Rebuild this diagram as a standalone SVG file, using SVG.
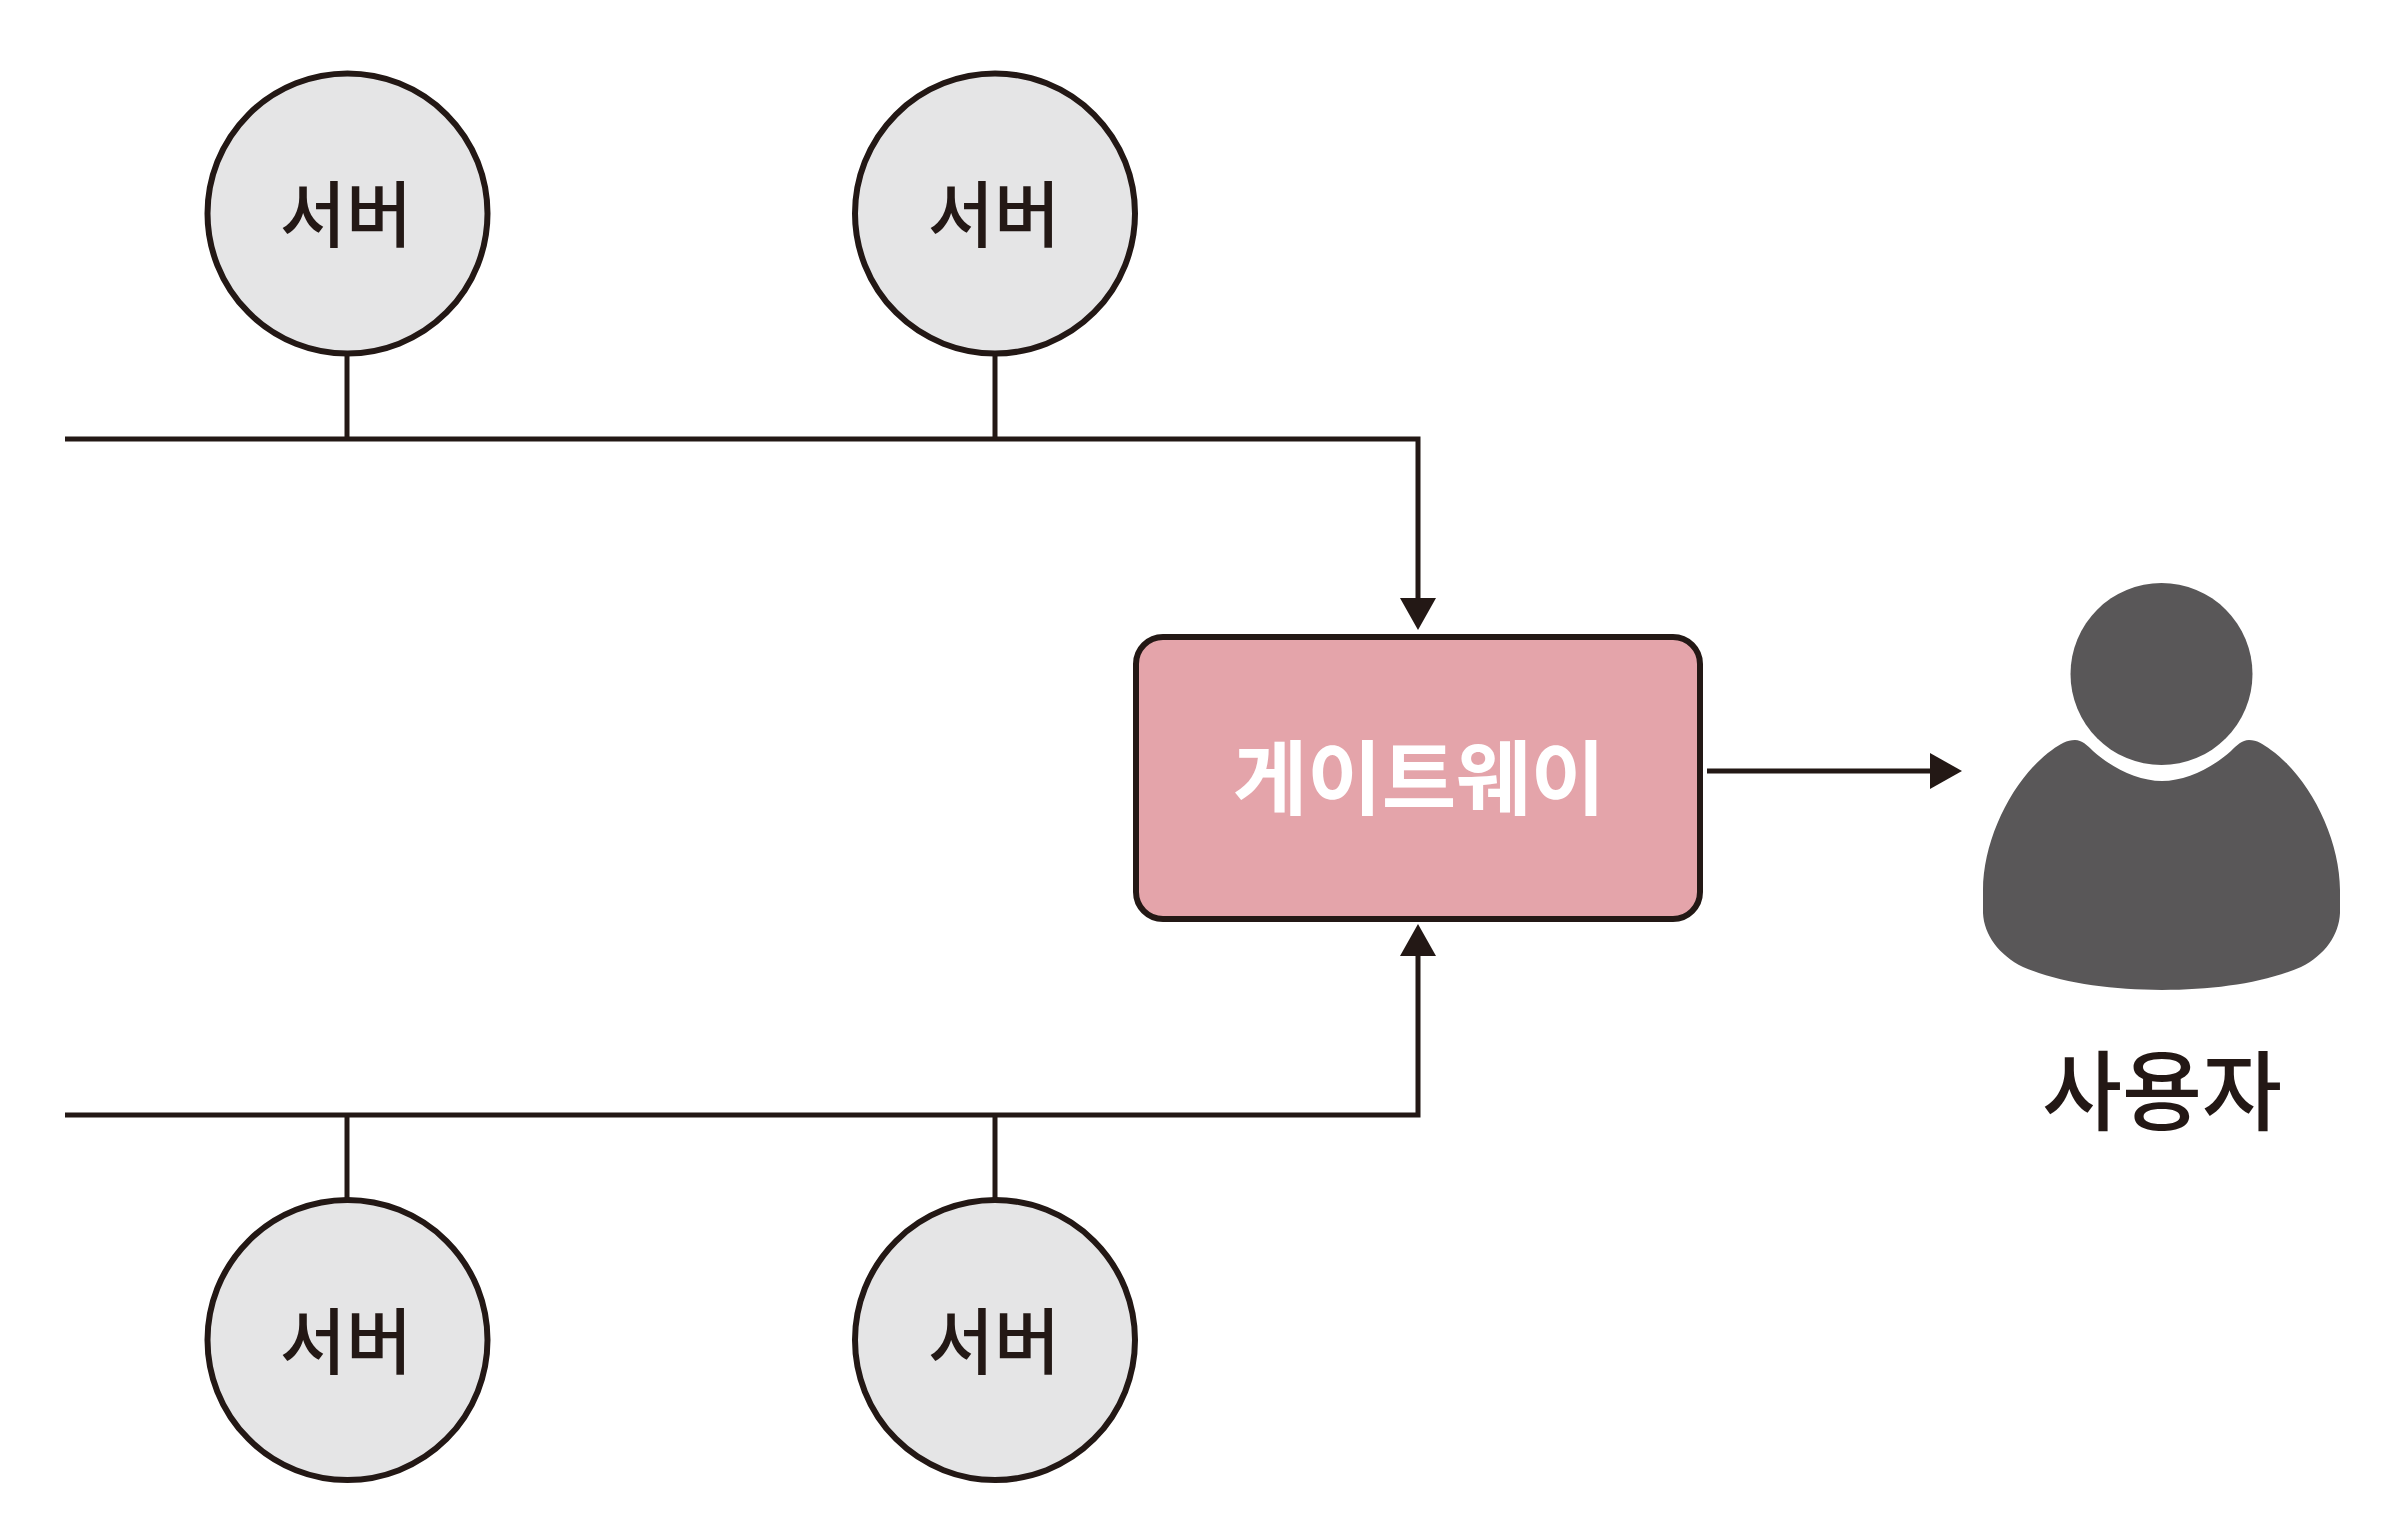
<svg xmlns="http://www.w3.org/2000/svg" width="2392" height="1528" viewBox="0 0 2392 1528">
  <style>
    .server circle { fill: #e5e5e6; stroke: #231815; stroke-width: 6; }
    .wire { fill: none; stroke: #231815; stroke-width: 5; stroke-linejoin: miter; }
    text { font-family: "Noto Sans CJK KR", "Noto Sans", sans-serif; text-anchor: middle; }
    .server text { font-size: 72px; fill: #231815; font-weight: 500; }
  </style>
  <defs>
    <marker id="arrow" markerUnits="userSpaceOnUse" markerWidth="32" markerHeight="36" refX="0" refY="18" orient="auto">
      <path d="M0 0 L32 18 L0 36 Z" fill="#231815"/>
    </marker>
  </defs>
  <rect width="2392" height="1528" fill="#ffffff"/>
  <g id="connectors">
    <path class="wire" d="M65 439 H1418 V598" marker-end="url(#arrow)"/>
    <path class="wire" d="M65 1115 H1418 V956" marker-end="url(#arrow)"/>
    <path class="wire" d="M347 353 V439"/>
    <path class="wire" d="M995 353 V439"/>
    <path class="wire" d="M347 1115 V1200"/>
    <path class="wire" d="M995 1115 V1200"/>
    <path class="wire" d="M1707 771 H1930" marker-end="url(#arrow)"/>
  </g>
  <g id="server-top-left" class="server">
    <circle cx="347.500" cy="213.500" r="140"/>
    <text x="346" y="241">서버</text>
  </g>
  <g id="server-top-right" class="server">
    <circle cx="995" cy="213.500" r="140"/>
    <text x="994" y="241">서버</text>
  </g>
  <g id="server-bottom-left" class="server">
    <circle cx="347.500" cy="1340" r="140"/>
    <text x="346" y="1368">서버</text>
  </g>
  <g id="server-bottom-right" class="server">
    <circle cx="995" cy="1340" r="140"/>
    <text x="994" y="1368">서버</text>
  </g>
  <g id="gateway">
    <rect x="1136" y="637" width="564" height="282" rx="27" ry="27" fill="#e4a4aa" stroke="#231815" stroke-width="6"/>
    <text x="1419" y="808" font-size="81" font-weight="700" fill="#ffffff">게이트웨이</text>
  </g>
  <g id="user">
    <circle cx="2161.500" cy="674" r="91" fill="#595758"/>
    <path fill="#595758" d="M2075 740 C2082 740 2087 745 2093 751 C2112 768 2138 781 2162 781 C2186 781 2212 768 2231 751 C2237 745 2242 740 2249 740 C2257 740 2263 744 2271 750 C2309 777 2340 838 2340 890 L2340 913 C2339 935 2325 955 2301 967 C2264 983 2214 990 2162 990 C2110 990 2060 983 2023 967 C1999 955 1984 935 1983 913 L1983 890 C1983 838 2014 777 2052 750 C2060 744 2067 740 2075 740 Z"/>
    <text x="2162" y="1124" font-size="87" font-weight="500" fill="#231815">사용자</text>
  </g>
</svg>
